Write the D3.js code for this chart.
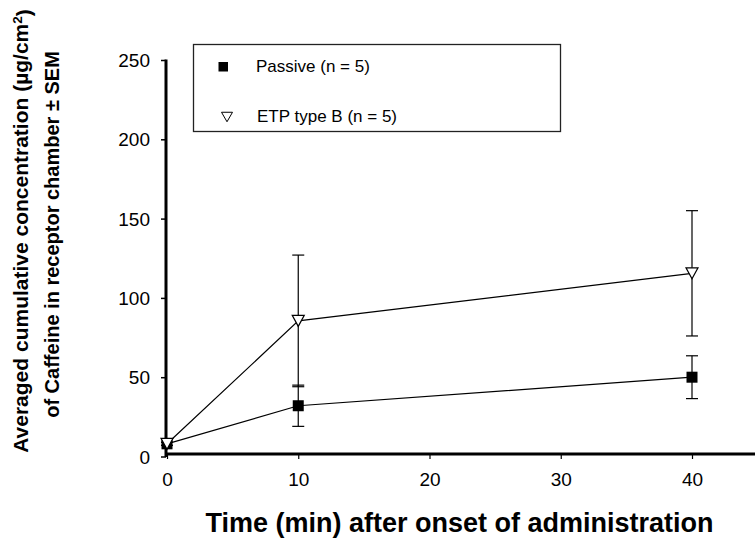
<!DOCTYPE html>
<html>
<head>
<meta charset="utf-8">
<script src="https://cdn.jsdelivr.net/npm/d3@7"></script>
<style>
  html, body { margin: 0; padding: 0; background: #fff; }
  svg { display: block; font-family: Arial, "Liberation Sans", sans-serif; }
</style>
</head>
<body>
<svg id="chart" width="755" height="542"></svg>
<script>
// Sampling times (min) and cumulative caffeine concentration (µg/cm²), mean ± SEM
const times = [0, 10, 40];
const passiveMean = [8, 32, 50];
const passiveSem = [1, 13, 13.5];
const etpMean = [8, 85.5, 115.5];
const etpSem = [1, 41.5, 39.5];

const xTicks = [0, 10, 20, 30, 40];
const yTicks = [0, 50, 100, 150, 200, 250];

const legendLabels = ["Passive (n = 5)", "ETP type B (n = 5)"];

const svg = d3.select("#chart");

const x = d3.scaleLinear().domain([0, 40]).range([167, 692]);
const y = d3.scaleLinear().domain([0, 250]).range([456.5, 60]);

const xAxisY = 454;
const yAxisX = 166;

// Y axis with outward ticks
const yAxis = svg.append("g")
  .attr("transform", `translate(${yAxisX},0)`)
  .call(d3.axisLeft(y).tickValues(yTicks).tickSize(5).tickPadding(11).tickSizeOuter(0));
yAxis.select(".domain").remove();
yAxis.selectAll(".tick line").attr("stroke", "#000").attr("stroke-width", 1.5);
yAxis.selectAll(".tick text")
  .attr("font-size", 19).attr("fill", "#000")
  .attr("dy", "0.35em");
svg.append("line")
  .attr("x1", yAxisX).attr("x2", yAxisX)
  .attr("y1", y(250) - 0.5).attr("y2", y(0) + 0.5)
  .attr("stroke", "#000").attr("stroke-width", 3);

// X axis, drawn across to the right edge
const xAxis = svg.append("g")
  .attr("transform", `translate(0,${xAxisY})`)
  .call(d3.axisBottom(x).tickValues(xTicks).tickSize(5).tickPadding(14).tickSizeOuter(0));
xAxis.select(".domain").remove();
xAxis.selectAll(".tick line").attr("stroke", "#000").attr("stroke-width", 1.2);
xAxis.selectAll(".tick text")
  .attr("font-size", 19).attr("fill", "#000");
svg.append("line")
  .attr("x1", yAxisX).attr("x2", 755)
  .attr("y1", xAxisY).attr("y2", xAxisY)
  .attr("stroke", "#000").attr("stroke-width", 3);

// Axis titles
svg.append("text")
  .attr("x", 459.5).attr("y", 532)
  .attr("text-anchor", "middle")
  .attr("font-weight", "bold").attr("font-size", 27)
  .text("Time (min) after onset of administration");

const yTitle = svg.append("g").attr("font-weight", "bold")
  .attr("text-anchor", "middle");
const t1 = yTitle.append("text")
  .attr("font-size", 21)
  .attr("transform", "translate(28,231) rotate(-90)");
t1.append("tspan").text("Averaged cumulative concentration (µg/cm");
t1.append("tspan").attr("dy", "-0.45em").attr("font-size", 13.5).text("2");
t1.append("tspan").attr("dy", "0.45em").text(")");
yTitle.append("text")
  .attr("font-size", 20)
  .attr("transform", "translate(59,234.5) rotate(-90)")
  .text("of Caffeine in receptor chamber ± SEM");

// Series data rows
const passive = times.map((t, i) => ({ t, m: passiveMean[i], s: passiveSem[i] }));
const etp = times.map((t, i) => ({ t, m: etpMean[i], s: etpSem[i] }));

const line = d3.line().x(d => x(d.t)).y(d => y(d.m));

function drawErrorBars(data) {
  const g = svg.append("g").attr("stroke", "#000").attr("stroke-width", 1.2);
  data.forEach(d => {
    g.append("line").attr("x1", x(d.t)).attr("x2", x(d.t))
      .attr("y1", y(d.m + d.s)).attr("y2", y(d.m - d.s));
    [d.m + d.s, d.m - d.s].forEach(v => {
      g.append("line").attr("x1", x(d.t) - 6).attr("x2", x(d.t) + 6)
        .attr("y1", y(v)).attr("y2", y(v));
    });
  });
}

drawErrorBars(passive);
drawErrorBars(etp);

svg.append("path").datum(passive).attr("d", line)
  .attr("fill", "none").attr("stroke", "#000").attr("stroke-width", 1.2);
svg.append("path").datum(etp).attr("d", line)
  .attr("fill", "none").attr("stroke", "#000").attr("stroke-width", 1.2);

// Markers: filled squares (passive), open down-triangles (ETP)
const sq = 11;
svg.append("g").selectAll("rect").data(passive).join("rect")
  .attr("x", d => x(d.t) - sq / 2).attr("y", d => y(d.m) - sq / 2)
  .attr("width", sq).attr("height", sq).attr("fill", "#000");

const triPath = (cx, cy, w, h) =>
  `M${cx - w / 2},${cy - h / 2}L${cx + w / 2},${cy - h / 2}L${cx},${cy + h / 2}Z`;
svg.append("g").selectAll("path").data(etp).join("path")
  .attr("d", d => triPath(x(d.t), y(d.m), 12, 11))
  .attr("fill", "#fff").attr("stroke", "#000").attr("stroke-width", 1.2);

// Legend
const lg = svg.append("g");
lg.append("rect").attr("x", 193.5).attr("y", 44.5).attr("width", 367).attr("height", 87)
  .attr("fill", "#fff").attr("stroke", "#222").attr("stroke-width", 1.3);
lg.append("rect").attr("x", 218.5).attr("y", 62).attr("width", 9.5).attr("height", 9.5).attr("fill", "#000");
lg.append("path").attr("d", triPath(227, 117, 11, 9.5))
  .attr("fill", "#fff").attr("stroke", "#000").attr("stroke-width", 1);
lg.append("text").attr("x", 256).attr("y", 72).attr("font-size", 17).text(legendLabels[0]);
lg.append("text").attr("x", 257).attr("y", 122).attr("font-size", 17).text(legendLabels[1]);
</script>
</body>
</html>
